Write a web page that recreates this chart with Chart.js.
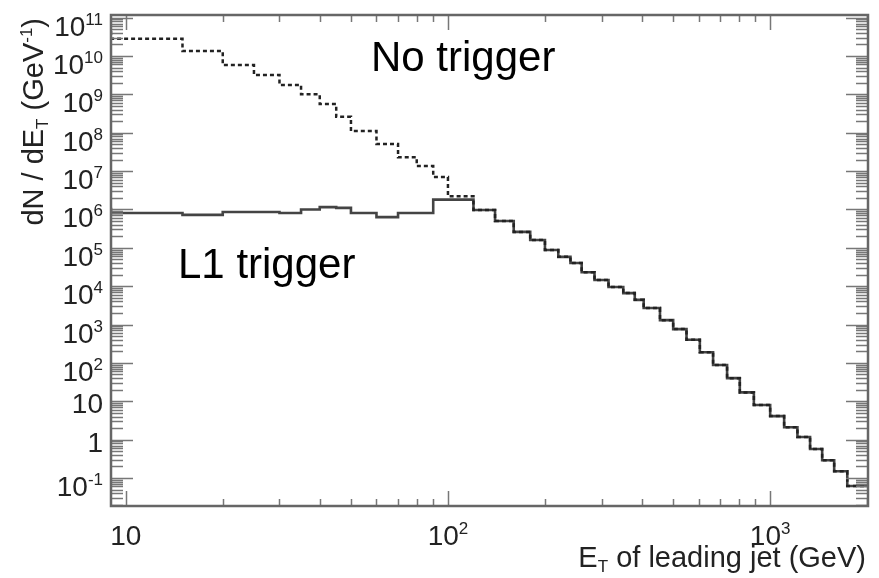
<!DOCTYPE html>
<html lang="en">
<head>
<meta charset="UTF-8">
<title>Leading jet ET spectrum</title>
<script src="https://cdn.jsdelivr.net/npm/chart.js"></script>
<style>
  html, body { margin: 0; padding: 0; background: #fff; }
</style>
</head>
<body>
<canvas id="myChart" width="879" height="578"></canvas>
<script>
// left edges (GeV) of the low ET bins, where the two curves are different
const lowEdges = [9, 15, 20, 25, 30, 35, 40, 45, 50, 60, 70, 80, 90, 100, 120];
const noTriggerLow = [4.5e10, 2.8e10, 1.35e10, 5.8e9, 3.2e9, 1.75e9, 1.0e9, 5.6e8, 2.6e8, 1.1e8, 5.1e7, 2.3e7, 1.35e7, 7.0e6, 2.2e6];
const l1TriggerLow = [1.1e6, 8.1e5, 7.2e5, 8.6e5, 8.6e5, 8.1e5, 1.0e6, 1.15e6, 1.1e6, 8.1e5, 6.3e5, 8.1e5, 8.1e5, 1.8e6, 1.8e6];
// above 140 GeV both curves lie on top of each other
const tailEdges = [140, 160, 180, 200, 220, 240, 260, 285, 315, 350, 380, 405, 455, 500, 550, 605, 665, 735, 805, 890, 1000, 1105, 1215, 1330, 1450, 1580, 1735, 1865, 2000];
const tailCounts = [9.7e5, 5.0e5, 2.6e5, 1.6e5, 8.8e4, 5.8e4, 4.0e4, 2.3e4, 1.45e4, 9.5e3, 6.6e3, 4.4e3, 2.7e3, 1.3e3, 760, 400, 190, 88, 40, 17, 8.0, 4.1, 2.1, 1.17, 0.57, 0.29, 0.15, 0.062];

// tick labels: [mantissa, exponent]
const xTickValues = [10, 100, 1000];
const xTickLabels = [['10', ''], ['10', '2'], ['10', '3']];
const yTickValues = [0.1, 1, 10, 1e2, 1e3, 1e4, 1e5, 1e6, 1e7, 1e8, 1e9, 1e10, 1e11];
const yTickLabels = [['10', '-1'], ['1', ''], ['10', ''], ['10', '2'], ['10', '3'], ['10', '4'], ['10', '5'],
                     ['10', '6'], ['10', '7'], ['10', '8'], ['10', '9'], ['10', '10'], ['10', '11']];

const FONT = '"Liberation Sans", Arial, sans-serif';

// step histogram: one point per left edge, plus the last right edge
function histPoints(edges, counts) {
  var pts = counts.map(function (c, i) { return { x: edges[i], y: c }; });
  pts.push({ x: edges[edges.length - 1], y: counts[counts.length - 1] });
  return pts;
}

var allEdges = lowEdges.concat(tailEdges);

// draw "10" with a raised exponent
function powText(ctx, base, exp, x, baseline, align, big, small) {
  ctx.font = big + 'px ' + FONT;
  var wb = ctx.measureText(base).width;
  ctx.font = small + 'px ' + FONT;
  var we = exp ? ctx.measureText(exp).width : 0;
  var w = wb + we;
  var x0 = align === 'right' ? x - w : (align === 'center' ? x - w / 2 : x);
  ctx.textAlign = 'left';
  ctx.font = big + 'px ' + FONT;
  ctx.fillText(base, x0, baseline);
  if (exp) {
    ctx.font = small + 'px ' + FONT;
    ctx.fillText(exp, x0 + wb, baseline - 11);
  }
}

// text made of pieces: [string, size, dy], right aligned at x
function pieces(ctx, parts, x, y) {
  var total = 0;
  parts.forEach(function (p) { ctx.font = p[1] + 'px ' + FONT; total += ctx.measureText(p[0]).width; });
  var cx = x - total;
  ctx.textAlign = 'left';
  parts.forEach(function (p) {
    ctx.font = p[1] + 'px ' + FONT;
    ctx.fillText(p[0], cx, y + p[2]);
    cx += ctx.measureText(p[0]).width;
  });
}

const rootFrame = {
  id: 'rootFrame',
  afterDatasetsDraw(chart) {
    const ctx = chart.ctx, a = chart.chartArea, xs = chart.scales.x, ys = chart.scales.y;
    ctx.save();

    // inward ticks on all four sides
    ctx.strokeStyle = '#777';
    ctx.lineWidth = 1.5;
    ctx.beginPath();
    for (var e = -2; e <= 11; e++) {
      for (var m = 1; m <= 9; m++) {
        var v = m * Math.pow(10, e);
        if (v <= ys.min * 1.0001 || v >= ys.max * 0.9999) continue;
        var py = Math.round(ys.getPixelForValue(v)) + 0.5;
        var len = m === 1 ? 22 : 12;
        ctx.moveTo(a.left, py); ctx.lineTo(a.left + len, py);
        ctx.moveTo(a.right, py); ctx.lineTo(a.right - len, py);
      }
    }
    for (var e2 = 0; e2 <= 3; e2++) {
      for (var m2 = 1; m2 <= 9; m2++) {
        var vx = m2 * Math.pow(10, e2);
        if (vx <= xs.min * 1.0001 || vx >= xs.max * 0.9999) continue;
        var px = Math.round(xs.getPixelForValue(vx)) + 0.5;
        var lx = m2 === 1 ? 15 : 7;
        ctx.moveTo(px, a.bottom); ctx.lineTo(px, a.bottom - lx);
        ctx.moveTo(px, a.top); ctx.lineTo(px, a.top + lx);
      }
    }
    ctx.stroke();

    // frame
    ctx.strokeStyle = '#666';
    ctx.lineWidth = 2.5;
    ctx.strokeRect(a.left, a.top, a.right - a.left, a.bottom - a.top);

    // tick labels
    ctx.fillStyle = '#222';
    yTickValues.forEach(function (v, i) {
      var py = ys.getPixelForValue(v);
      var lab = yTickLabels[i];
      powText(ctx, lab[0], lab[1], 103, py + (lab[1] ? 18 : 12), 'right', 28, 17);
    });
    xTickValues.forEach(function (v, i) {
      var px = xs.getPixelForValue(v);
      var lab = xTickLabels[i];
      powText(ctx, lab[0], lab[1], px, 545, 'center', 28, 17);
    });

    // axis titles
    pieces(ctx, [['E', 29, 0], ['T', 17, 5], [' of leading jet (GeV)', 29, 0]], 866, 567);
    ctx.save();
    ctx.translate(43, 18);
    ctx.rotate(-Math.PI / 2);
    pieces(ctx, [['dN / dE', 29, 0], ['T', 17, 5], [' (GeV', 29, 0], ['-1', 17, -11], [')', 29, 0]], 0, 0);
    ctx.restore();

    // curve labels
    ctx.fillStyle = '#000';
    ctx.font = '42px ' + FONT;
    ctx.textAlign = 'left';
    ctx.fillText('No trigger', 371, 71);
    ctx.fillText('L1 trigger', 178, 278);

    ctx.restore();
  }
};

new Chart(document.getElementById('myChart'), {
  type: 'line',
  data: {
    datasets: [{
      label: 'No trigger',
      data: histPoints(allEdges, noTriggerLow.concat(tailCounts)),
      stepped: 'after',
      borderColor: '#222',
      borderWidth: 2.5,
      borderDash: [4, 3],
      pointRadius: 0,
      fill: false,
      order: 0
    }, {
      label: 'L1 trigger',
      data: histPoints(allEdges, l1TriggerLow.concat(tailCounts)),
      stepped: 'after',
      borderColor: '#444',
      borderWidth: 2.6,
      pointRadius: 0,
      fill: false,
      order: 1
    }]
  },
  options: {
    responsive: false,
    devicePixelRatio: 1,
    animation: false,
    layout: { padding: { left: 111, right: 11, top: 15, bottom: 72 } },
    plugins: { legend: { display: false }, tooltip: { enabled: false } },
    scales: {
      x: { type: 'logarithmic', min: 9, max: 2012, bounds: 'data', display: false },
      y: { type: 'logarithmic', min: 0.0186, max: 1.17e11, bounds: 'data', display: false }
    }
  },
  plugins: [rootFrame]
});
</script>
</body>
</html>
